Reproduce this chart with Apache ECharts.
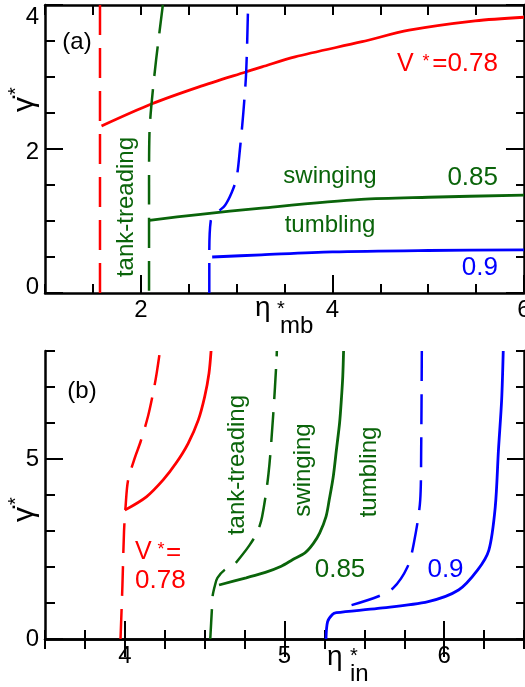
<!DOCTYPE html>
<html><head><meta charset="utf-8">
<script src="https://cdn.jsdelivr.net/npm/echarts@6.0.0/dist/echarts.min.js"></script>
<style>html,body{margin:0;padding:0;background:#fff}#c{width:525px;height:687px}</style>
</head><body><div id="c"></div>
<script>
// ---------- Panel (a): gamma* vs eta*_mb ----------
const aXTickLabels = [2, 4, 6];
const aYTickLabels = [0, 2, 4];
const aRedDashed  = [[1.574,0],[1.574,4]];
const aRedSolid   = [[1.59,2.32],[2.11,2.625],[2.6,2.86],[3.095,3.07],[3.265,3.14],[3.61,3.28],[4.31,3.49],[4.8,3.65],[5.49,3.78],[6.0,3.83]];
const aGreenDashed= [[2.086,0.03],[2.086,1.5],[2.09,2.2],[2.11,2.6],[2.16,3.24],[2.23,4.0]];
const aGreenSolid = [[2.09,1.01],[2.6,1.09],[3.26,1.18],[4.3,1.30],[5.0,1.33],[6.0,1.36]];
const aBlueDashed = [[2.715,0],[2.715,0.5],[2.73,1.0],[2.8,1.12],[2.88,1.22],[2.95,1.4],[3.0,1.6],[3.035,2.0],[3.07,2.5],[3.1,3.07],[3.12,4.0]];
const aBlueSolid  = [[2.745,0.5],[3.26,0.53],[4.0,0.57],[5.0,0.59],[6.0,0.6]];

// ---------- Panel (b): gamma* vs eta*_in ----------
const bXTickLabels = [4, 5, 6];
const bYTickLabels = [0, 5];
const bRedDashed  = [[3.973,0],[3.985,1.5],[3.995,3.0],[4.005,3.7],[4.02,4.4],[4.06,5.0],[4.1,5.5],[4.146,6.2],[4.18,6.9],[4.2,7.4],[4.22,8.0]];
const bRedSolid   = [[4.0,3.58],[4.135,3.95],[4.24,4.42],[4.32,4.88],[4.396,5.43],[4.46,6.08],[4.5,6.73],[4.527,7.38],[4.54,8.0]];
const bGreenDashed= [[4.535,0],[4.545,0.8],[4.55,1.2],[4.565,1.5],[4.58,1.7],[4.625,1.92],[4.68,2.05],[4.72,2.25],[4.78,2.6],[4.83,2.97],[4.86,3.4],[4.9,4.6],[4.93,6.27],[4.95,7.75],[4.952,8.0]];
const bGreenSolid = [[4.59,1.5],[4.76,1.7],[4.88,1.85],[4.98,2.02],[5.05,2.2],[5.13,2.4],[5.18,2.65],[5.22,2.94],[5.26,3.4],[5.28,3.86],[5.305,4.5],[5.325,5.25],[5.345,6.0],[5.356,6.64],[5.365,7.3],[5.37,8.0]];
const bBlueDashed = [[5.42,0.94],[5.585,1.18],[5.68,1.41],[5.77,2.0],[5.81,2.66],[5.85,3.86],[5.856,5.25],[5.86,8.0]];
const bBlueSolid  = [[5.26,0],[5.27,0.48],[5.3,0.68],[5.325,0.73],[5.585,0.85],[5.9,1.04],[6.09,1.36],[6.21,1.92],[6.28,2.47],[6.32,3.67],[6.34,5.25],[6.36,6.64],[6.37,8.0]];

const RED = '#ff0000', GREEN = '#0a640a', BLUE = '#0000ff';
const FONT = "'Liberation Sans', Arial, Helvetica, sans-serif";
const DASH = [30, 13];

const chart = echarts.init(document.getElementById('c'), null, {renderer: 'canvas'});

const axLine = {show: true, lineStyle: {color: '#000', width: 2.5}};
const noLine = {show: false};
const lbl = {color: '#000', fontSize: 24, fontFamily: FONT};
const tk = {width: 2, color: '#000'};

function xAx(grid, pos, min, max, o) {
  return Object.assign({type: 'value', gridIndex: grid, position: pos, min: min, max: max,
    splitLine: {show: false}, axisLine: noLine, axisLabel: {show: false},
    axisTick: {show: false}}, o);
}
const xAxes = [
  // panel a
  xAx(0, 'bottom', 1, 6, {interval: 0.5, axisLine: axLine, axisTick: {show: true, inside: true, length: 9, lineStyle: tk}}),
  xAx(0, 'bottom', 1, 6, {axisTick: {show: true, inside: true, length: 18, customValues: aXTickLabels, lineStyle: tk},
    axisLabel: Object.assign({show: true, margin: 5, customValues: aXTickLabels, hideOverlap: false}, lbl)}),
  xAx(0, 'top', 1, 6, {interval: 0.5, axisLine: axLine, axisTick: {show: true, inside: true, length: 10, lineStyle: tk}}),
  // panel b
  xAx(1, 'bottom', 3.5, 6.5, {interval: 0.25, axisLine: axLine, axisTick: {show: true, inside: true, length: 9, lineStyle: tk}}),
  xAx(1, 'bottom', 3.5, 6.5, {axisTick: {show: true, inside: true, length: 18, customValues: bXTickLabels, lineStyle: tk},
    axisLabel: Object.assign({show: true, margin: 5, customValues: bXTickLabels}, lbl)}),
  xAx(1, 'top', 3.5, 6.5, {interval: 0.25, axisLine: axLine, axisTick: {show: true, inside: true, length: 10, lineStyle: tk}}),
  xAx(1, 'top', 3.5, 6.5, {axisTick: {show: true, inside: true, length: 18, customValues: bXTickLabels, lineStyle: tk}})
];
function yAx(grid, pos, min, max, o) {
  return Object.assign({type: 'value', gridIndex: grid, position: pos, min: min, max: max,
    splitLine: {show: false}, axisLine: noLine, axisLabel: {show: false},
    axisTick: {show: false}}, o);
}
const yAxes = [
  // panel a
  yAx(0, 'left', 0, 4, {interval: 2, axisLine: axLine,
    axisTick: {show: true, inside: true, length: 18, lineStyle: tk},
    minorTick: {show: true, splitNumber: 4, length: 10, lineStyle: tk},
    axisLabel: Object.assign({show: true, margin: 6, customValues: aYTickLabels,
      formatter: function (v) { return v === 0 ? '{lo|0}' : (v === 2 ? '{mid|2}' : '{hi|' + v + '}'); },
      rich: {lo: Object.assign({padding: [0, 0, 11, 0]}, lbl), mid: Object.assign({padding: [6, 0, 0, 0]}, lbl), hi: Object.assign({padding: [24, 0, 0, 0]}, lbl)}
    }, lbl)}),
  yAx(0, 'right', 0, 4, {interval: 2, axisLine: axLine,
    axisTick: {show: true, inside: true, length: 18, lineStyle: tk},
    minorTick: {show: true, splitNumber: 4, length: 8, lineStyle: tk}}),
  // panel b
  yAx(1, 'left', 0, 8, {interval: 1, axisLine: axLine,
    axisTick: {show: true, inside: true, length: 10, lineStyle: tk}}),
  yAx(1, 'left', 0, 8, {axisTick: {show: true, inside: true, length: 18, customValues: bYTickLabels, lineStyle: tk},
    axisLabel: Object.assign({show: true, margin: 6, customValues: bYTickLabels}, lbl)}),
  yAx(1, 'right', 0, 8, {interval: 1, axisLine: axLine,
    axisTick: {show: true, inside: true, length: 8, lineStyle: tk}}),
  yAx(1, 'right', 0, 8, {axisTick: {show: true, inside: true, length: 17, customValues: [5], lineStyle: tk}})
];

function ln(data, color, dashed, xi, yi, smooth) {
  return {type: 'line', data: data, xAxisIndex: xi, yAxisIndex: yi, symbol: 'none',
    showSymbol: false, silent: true, clip: true, smooth: smooth || false,
    lineStyle: {color: color, width: dashed ? 2.5 : 2.8, type: dashed ? DASH : 'solid'}};
}
const series = [
  ln(aRedDashed, RED, true, 0, 0), ln(aRedSolid, RED, false, 0, 0, 0.3),
  ln(aGreenDashed, GREEN, true, 0, 0, 0.3), ln(aGreenSolid, GREEN, false, 0, 0, 0.3),
  ln(aBlueDashed, BLUE, true, 0, 0, 0.3), ln(aBlueSolid, BLUE, false, 0, 0, 0.3),
  ln(bRedDashed, RED, true, 3, 2, 0.3), ln(bRedSolid, RED, false, 3, 2, 0.3),
  ln(bGreenDashed, GREEN, true, 3, 2, 0.3), ln(bGreenSolid, GREEN, false, 3, 2, 0.3),
  ln(bBlueDashed, BLUE, true, 3, 2, 0.3), ln(bBlueSolid, BLUE, false, 3, 2, 0.3)
];

function T(text, x, y, color, o) {
  return Object.assign({type: 'text', x: x, y: y, silent: true,
    style: Object.assign({text: text, fill: color, fontSize: 24, fontFamily: FONT, align: 'center', verticalAlign: 'middle'}, (o && o.style) || {})},
    o ? {rotation: o.rotation || 0} : {});
}
function yTitle(x, y) {
  return {type: 'group', x: x, y: y, rotation: Math.PI / 2, silent: true, children: [
    {type: 'text', x: 0, y: -10.5, style: {text: 'γ\u0307', fill: '#000', fontSize: 30, fontFamily: FONT, align: 'left', verticalAlign: 'middle'}},
    {type: 'text', x: 21, y: -18.5, style: {text: '*', fill: '#000', fontSize: 20, fontFamily: FONT, align: 'center', verticalAlign: 'middle'}}
  ]};
}
const graphics = [
  // panel a
  T('(a)', 77, 42, '#000'),
  T('V', 397, 64, RED, {style: {align: 'left', fontSize: 25}}),
  T('*', 426, 62, RED, {style: {fontSize: 18}}),
  T('=0.78', 498, 64, RED, {style: {align: 'right', fontSize: 26}}),
  T('swinging', 330, 176.5, GREEN),
  T('0.85', 498, 177.5, GREEN, {style: {align: 'right', fontSize: 26}}),
  T('tumbling', 330, 225, GREEN),
  T('0.9', 498, 268, BLUE, {style: {align: 'right', fontSize: 26}}),
  T('tank-treading', 126, 207, GREEN, {rotation: Math.PI / 2}),
  yTitle(35, 112),
  T('η', 255, 308, '#000', {style: {align: 'left', fontSize: 28}}),
  T('*', 281, 309, '#000', {style: {fontSize: 20}}),
  T('mb', 280, 326.5, '#000', {style: {align: 'left'}}),
  // panel b
  T('(b)', 82, 391.5, '#000'),
  T('V', 135, 552, RED, {style: {align: 'left', fontSize: 25}}),
  T('*', 161, 550, RED, {style: {fontSize: 18}}),
  T('=', 166, 553, RED, {style: {align: 'left', fontSize: 26}}),
  T('0.78', 135, 581, RED, {style: {align: 'left', fontSize: 26}}),
  T('tank-treading', 237, 465, GREEN, {rotation: Math.PI / 2}),
  T('swinging', 303, 470, GREEN, {rotation: Math.PI / 2}),
  T('tumbling', 369, 472, GREEN, {rotation: Math.PI / 2}),
  T('0.85', 340, 570, GREEN, {style: {fontSize: 26}}),
  T('0.9', 445.5, 570, BLUE, {style: {fontSize: 26}}),
  yTitle(35, 522),
  T('η', 327, 657, '#000', {style: {align: 'left', fontSize: 28}}),
  T('*', 354, 656.5, '#000', {style: {fontSize: 20}}),
  T('in', 350, 674.5, '#000', {style: {align: 'left'}})
];

chart.setOption({
  animation: false,
  backgroundColor: '#fff',
  grid: [
    {left: 45, top: 5, width: 479, height: 288, containLabel: false, outerBoundsMode: 'none'},
    {left: 45, top: 351, width: 479, height: 288, containLabel: false, outerBoundsMode: 'none'}
  ],
  xAxis: xAxes,
  yAxis: yAxes,
  series: series,
  graphic: graphics
});
</script>
</body></html>
